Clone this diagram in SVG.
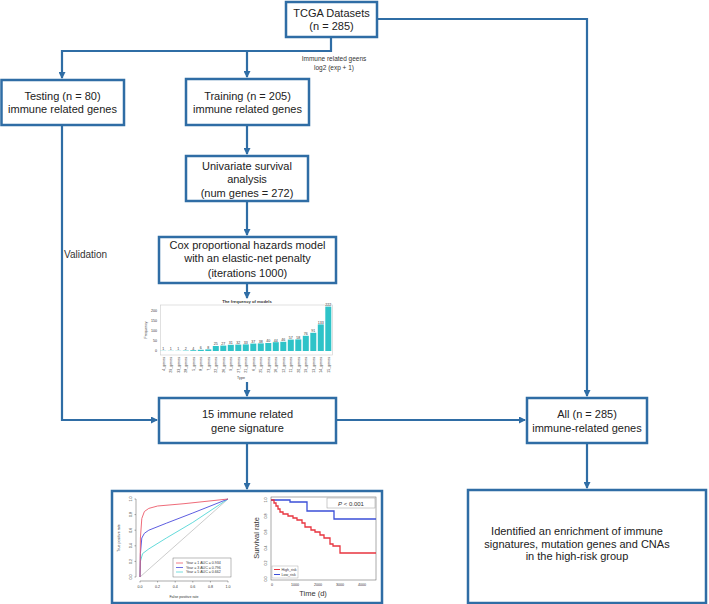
<svg xmlns="http://www.w3.org/2000/svg" width="709" height="604" viewBox="0 0 709 604">
<defs>
<marker id="ah" markerUnits="userSpaceOnUse" markerWidth="7" markerHeight="7" refX="6" refY="3.5" orient="auto"><path d="M0,0 L7,3.5 L0,7 z" fill="#2f6da5"/></marker>
<style>
.box{fill:#fff;stroke:#2f6da5;stroke-width:2.5}
.t{font-family:"Liberation Sans",Arial,sans-serif;font-size:11px;fill:#222;text-anchor:middle}
.s{font-family:"Liberation Sans",Arial,sans-serif;fill:#333}
.conn path{fill:none;stroke:#2f6da5;stroke-width:2.2}
.bar{fill:#2ec3c8}
.tk{font-family:"Liberation Sans",Arial,sans-serif;font-size:3.6px;fill:#333}
</style>
</defs>
<rect width="709" height="604" fill="#fff"/>

<g class="conn">
<path d="M331,37 V51 H62 V78" marker-end="url(#ah)"/>
<path d="M247,51 V77" marker-end="url(#ah)"/>
<path d="M377,19 H587 V396" marker-end="url(#ah)"/>
<path d="M62,125 V420 H157" marker-end="url(#ah)"/>
<path d="M247,125 V154" marker-end="url(#ah)"/>
<path d="M247,201 V235" marker-end="url(#ah)"/>
<path d="M247,283 V298" marker-end="url(#ah)"/>
<path d="M247,382 V396" marker-end="url(#ah)"/>
<path d="M336,420 H525" marker-end="url(#ah)"/>
<path d="M247,443 V489" marker-end="url(#ah)"/>
<path d="M587,443 V488" marker-end="url(#ah)"/>
</g>

<text class="s" x="334" y="61" font-size="6.5" text-anchor="middle">Immune related geens</text>
<text class="s" x="334" y="70" font-size="6.5" text-anchor="middle">log2 (exp + 1)</text>
<text class="s" x="64" y="258" font-size="10">Validation</text>

<g id="tcga"><rect class="box" x="286" y="2" width="91" height="35"/>
<text class="t" x="331.5" y="17">TCGA Datasets</text><text class="t" x="331.5" y="30">(n = 285)</text></g>

<g id="testing"><rect class="box" x="1.5" y="80" width="122.5" height="45"/>
<text class="t" x="62.5" y="100">Testing (n = 80)</text><text class="t" x="62.5" y="113">immune related genes</text></g>

<g id="training"><rect class="box" x="186" y="79" width="123" height="46"/>
<text class="t" x="247.5" y="100">Training (n = 205)</text><text class="t" x="247.5" y="113">immune related genes</text></g>

<g id="univariate"><rect class="box" x="186" y="156" width="122" height="45"/>
<text class="t" x="247" y="170">Univariate survival</text><text class="t" x="247" y="183">analysis</text><text class="t" x="247" y="197">(num genes = 272)</text></g>

<g id="cox"><rect class="box" x="159" y="237" width="177" height="46"/>
<text class="t" x="247.5" y="249">Cox proportional hazards model</text><text class="t" x="247.5" y="262">with an elastic-net penalty</text><text class="t" x="247.5" y="277">(iterations 1000)</text></g>

<g id="barchart">
<text class="s" x="247" y="303" font-size="4.2" font-weight="bold" text-anchor="middle">The frequency of models</text>
<rect x="160.5" y="305" width="172" height="50" fill="none" stroke="#ccc" stroke-width="0.6"/>
<g class="tk" text-anchor="end">
<text x="157" y="352">0</text><text x="157" y="342">50</text><text x="157" y="332">100</text><text x="157" y="322">150</text><text x="157" y="312">200</text>
</g>
<text class="tk" transform="translate(147,330) rotate(-90)" text-anchor="middle" font-size="4">Frequency</text>
<g>
<rect class="bar" x="160.3" y="350.8" width="6" height="0.2"/>
<rect class="bar" x="167.8" y="350.8" width="6" height="0.2"/>
<rect class="bar" x="175.3" y="350.8" width="6" height="0.2"/>
<rect class="bar" x="182.8" y="350.6" width="6" height="0.4"/>
<rect class="bar" x="190.3" y="350.2" width="6" height="0.8"/>
<rect class="bar" x="197.8" y="349.8" width="6" height="1.2"/>
<rect class="bar" x="205.3" y="349.4" width="6" height="1.6"/>
<rect class="bar" x="212.8" y="346" width="6" height="5"/>
<rect class="bar" x="220.3" y="345.6" width="6" height="5.4"/>
<rect class="bar" x="227.8" y="344.8" width="6" height="6.2"/>
<rect class="bar" x="235.3" y="344.6" width="6" height="6.4"/>
<rect class="bar" x="242.8" y="344.4" width="6" height="6.6"/>
<rect class="bar" x="250.3" y="343.6" width="6" height="7.4"/>
<rect class="bar" x="257.8" y="343.4" width="6" height="7.6"/>
<rect class="bar" x="265.3" y="343" width="6" height="8"/>
<rect class="bar" x="272.8" y="342.2" width="6" height="8.8"/>
<rect class="bar" x="280.3" y="341.8" width="6" height="9.2"/>
<rect class="bar" x="287.8" y="339.6" width="6" height="11.4"/>
<rect class="bar" x="295.3" y="339.4" width="6" height="11.6"/>
<rect class="bar" x="302.8" y="335.8" width="6" height="15.2"/>
<rect class="bar" x="310.3" y="332.8" width="6" height="18.2"/>
<rect class="bar" x="317.8" y="324.4" width="6" height="26.6"/>
<rect class="bar" x="325.3" y="306.6" width="6" height="44.4"/>
</g>
<g class="tk" font-size="2.8" text-anchor="middle">
<text x="163.3" y="350">1</text><text x="170.8" y="350">1</text><text x="178.3" y="350">1</text><text x="185.8" y="350">2</text><text x="193.3" y="349.6">4</text><text x="200.8" y="349.2">6</text><text x="208.3" y="348.8">8</text><text x="215.8" y="345.4">25</text><text x="223.3" y="345">27</text><text x="230.8" y="344.2">31</text><text x="238.3" y="344">32</text><text x="245.8" y="343.8">33</text><text x="253.3" y="343">37</text><text x="260.8" y="342.8">38</text><text x="268.3" y="342.4">40</text><text x="275.8" y="341.6">44</text><text x="283.3" y="341.2">46</text><text x="290.8" y="339">57</text><text x="298.3" y="338.8">58</text><text x="305.8" y="335.2">76</text><text x="313.3" y="332.2">91</text><text x="320.8" y="323.8">133</text><text x="328.3" y="306">222</text>
</g>
<g class="tk" text-anchor="end" font-size="4">
<text transform="translate(164.6,357) rotate(-90)">4_genes</text>
<text transform="translate(172.1,357) rotate(-90)">29_genes</text>
<text transform="translate(179.6,357) rotate(-90)">33_genes</text>
<text transform="translate(187.1,357) rotate(-90)">28_genes</text>
<text transform="translate(194.6,357) rotate(-90)">5_genes</text>
<text transform="translate(202.1,357) rotate(-90)">8_genes</text>
<text transform="translate(209.6,357) rotate(-90)">7_genes</text>
<text transform="translate(217.1,357) rotate(-90)">22_genes</text>
<text transform="translate(224.6,357) rotate(-90)">26_genes</text>
<text transform="translate(232.1,357) rotate(-90)">9_genes</text>
<text transform="translate(239.6,357) rotate(-90)">27_genes</text>
<text transform="translate(247.1,357) rotate(-90)">21_genes</text>
<text transform="translate(254.6,357) rotate(-90)">6_genes</text>
<text transform="translate(262.1,357) rotate(-90)">25_genes</text>
<text transform="translate(269.6,357) rotate(-90)">23_genes</text>
<text transform="translate(277.1,357) rotate(-90)">16_genes</text>
<text transform="translate(284.6,357) rotate(-90)">12_genes</text>
<text transform="translate(292.1,357) rotate(-90)">11_genes</text>
<text transform="translate(299.6,357) rotate(-90)">20_genes</text>
<text transform="translate(307.1,357) rotate(-90)">19_genes</text>
<text transform="translate(314.6,357) rotate(-90)">13_genes</text>
<text transform="translate(322.1,357) rotate(-90)">14_genes</text>
<text transform="translate(329.6,357) rotate(-90)">15_genes</text>
</g>
<text class="tk" x="241" y="379" font-size="4.2" text-anchor="middle">Type</text>
</g>

<g id="signature"><rect class="box" x="159" y="398" width="177" height="45"/>
<text class="t" x="247.5" y="418">15 immune related</text><text class="t" x="247.5" y="432">gene signature</text></g>

<g id="all"><rect class="box" x="527" y="398" width="120" height="45"/>
<text class="t" x="587" y="418">All (n = 285)</text><text class="t" x="587" y="432">immune-related genes</text></g>

<g id="plots">
<rect class="box" x="112" y="491" width="270" height="112"/>
<path d="M136,577 V499 M136,577 h-1.5 M136,561.4 h-1.5 M136,545.8 h-1.5 M136,530.2 h-1.5 M136,514.6 h-1.5 M136,499 h-1.5" stroke="#555" stroke-width="0.5" fill="none"/>
<path d="M140,581 H228 M140,581 v1.5 M157.6,581 v1.5 M175.2,581 v1.5 M192.8,581 v1.5 M210.4,581 v1.5 M228,581 v1.5" stroke="#555" stroke-width="0.5" fill="none"/>
<g class="tk" text-anchor="middle">
<text x="140" y="588">0.0</text><text x="157.6" y="588">0.2</text><text x="175.2" y="588">0.4</text><text x="192.8" y="588">0.6</text><text x="210.4" y="588">0.8</text><text x="228" y="588">1.0</text>
<text transform="translate(132,577) rotate(-90)">0.0</text><text transform="translate(132,561.4) rotate(-90)">0.2</text><text transform="translate(132,545.8) rotate(-90)">0.4</text><text transform="translate(132,530.2) rotate(-90)">0.6</text><text transform="translate(132,514.6) rotate(-90)">0.8</text><text transform="translate(132,499) rotate(-90)">1.0</text>
<text x="184" y="598">False positive rate</text>
<text transform="translate(120,538) rotate(-90)">True positive rate</text>
</g>
<path d="M140,577 L228,499" stroke="#aaa" stroke-width="0.6" fill="none"/>
<path d="M140,577 L140.4,561.4 L142.6,553.6 L148.8,548.9 L166.4,538 L192.8,522.4 L228,499" stroke="#52d6d6" stroke-width="0.9" fill="none"/>
<path d="M140,577 L140.4,553.6 L141.8,538 L144.4,533.3 L148.8,530.2 L166.4,523.2 L192.8,513 L228,499" stroke="#4b4bdc" stroke-width="0.9" fill="none"/>
<path d="M140,577 L140.4,538 L141.8,518.5 L144.4,511.5 L148.8,508.4 L157.6,506 L184,503.7 L228,499" stroke="#ec5a6a" stroke-width="0.9" fill="none"/>
<rect x="173" y="558" width="58" height="19" fill="#fff" stroke="#555" stroke-width="0.4"/>
<path d="M176,563 h7" stroke="#ec5a6a" stroke-width="0.8"/>
<path d="M176,567.5 h7" stroke="#4b4bdc" stroke-width="0.8"/>
<path d="M176,572 h7" stroke="#52d6d6" stroke-width="0.8"/>
<g class="tk" font-size="3.4">
<text x="186" y="564.2">Year = 1  AUC = 0.934</text>
<text x="186" y="568.7">Year = 3  AUC = 0.796</text>
<text x="186" y="573.2">Year = 5  AUC = 0.662</text>
</g>
<rect x="271" y="497" width="105" height="83" fill="none" stroke="#555" stroke-width="0.5"/>
<g class="tk" text-anchor="middle" font-size="3">
<text transform="translate(267,500) rotate(-90)">1.0</text><text transform="translate(267,516) rotate(-90)">0.8</text><text transform="translate(267,532) rotate(-90)">0.6</text><text transform="translate(267,548) rotate(-90)">0.4</text><text transform="translate(267,563) rotate(-90)">0.2</text><text transform="translate(267,579) rotate(-90)">0.0</text>
<text x="272" y="586">0</text><text x="295" y="586">1000</text><text x="318" y="586">2000</text><text x="340" y="586">3000</text><text x="362" y="586">4000</text>
</g>
<text class="s" x="313" y="596" font-size="7.5" text-anchor="middle">Time (d)</text>
<text class="s" transform="translate(259,538) rotate(-90)" font-size="7.5" text-anchor="middle">Survival rate</text>
<path d="M271,500 H290 V502 H307 V511 H334 V519 H376" stroke="#3b4fd8" stroke-width="1.3" fill="none"/>
<path d="M271,500 H274 V503 H276 V506 H278 V509 H280 V512 H283 V514 H288 V516 H293 V518 H297 V520 H302 V523 H305 V527 H311 V530 H315 V532 H320 V535 H324 V538 H330 V544 H333 V546 H340 V553 H376" stroke="#e8343f" stroke-width="1.3" fill="none"/>
<rect x="327" y="498" width="48" height="10" fill="#fff" stroke="#999" stroke-width="0.5"/>
<text class="s" x="351" y="505.5" font-size="6" text-anchor="middle"><tspan font-style="italic">P</tspan> &lt; 0.001</text>
<rect x="272" y="566" width="26" height="12" fill="#fff" stroke="#999" stroke-width="0.4"/>
<path d="M274,569.5 h6" stroke="#e8343f" stroke-width="1"/>
<path d="M274,574.5 h6" stroke="#3b4fd8" stroke-width="1"/>
<g class="tk" font-size="3.6"><text x="281.5" y="570.8">High_risk</text><text x="281.5" y="575.8">Low_risk</text></g>
</g>

<g id="result"><rect class="box" x="468" y="490" width="238" height="113"/>
<g class="t">
<text x="577" y="535">Identified an enrichment of immune</text>
<text x="577" y="547.5">signatures, mutation genes and CNAs</text>
<text x="577" y="560">in the high-risk group</text>
</g></g>
</svg>
